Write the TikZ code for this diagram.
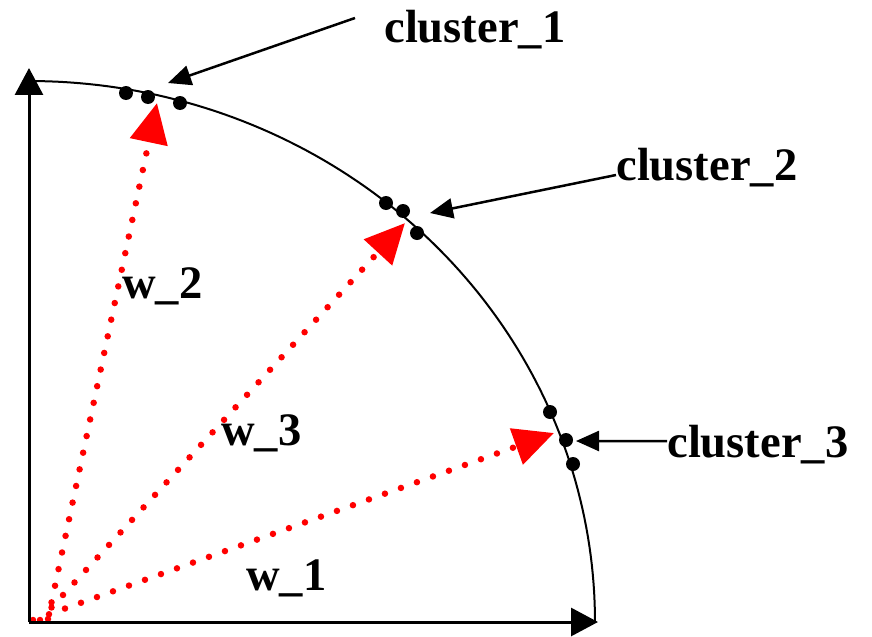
\documentclass[tikz,border=0pt]{standalone}
\usepackage{fontspec}
\setmainfont{Liberation Serif}
\usetikzlibrary{arrows.meta}
\begin{document}
\begin{tikzpicture}[x=0.02cm,y=-0.02cm,
  axis/.style={line width=0.06cm,-{Triangle[length=0.54cm,width=0.56cm]}},
  weight/.style={red,line width=0.13cm,line cap=round,dash pattern=on 0pt off 0.34cm,-{Triangle[length=0.8cm,width=0.74cm]}},
  pointer/.style={line width=0.05cm,-{Triangle[length=0.46cm,width=0.4cm]}},
  dotpt/.style={circle,fill=black,inner sep=0pt,minimum size=0.28cm},
  lbl/.style={font=\bfseries\fontsize{26.5}{31}\selectfont,inner sep=0pt,anchor=base west}]
\useasboundingbox (0,0) rectangle (872,636);
% axes
\coordinate (O) at (29,622);
\coordinate (ytip) at (29,68);
\coordinate (xtip) at (598,622);
% weight vectors
\coordinate (s1) at (33,620);
\coordinate (s3) at (40,620);
\coordinate (s2) at (48,619);
\coordinate (t1) at (554,433);
\coordinate (t3) at (405,223);
\coordinate (t2) at (157,103);
\draw[weight] (s1) -- (t1);
\draw[weight] (s3) -- (t3);
\draw[weight] (s2) -- (t2);
% axes
\draw[axis] (O) -- (ytip);
\draw[axis] (O) -- (xtip);
% unit arc
\draw[line width=0.04cm] plot[domain=0:90,samples=90,variable=\t] ({29+566*cos(\t)},{622-541*sin(\t)});
% cluster points
\node[dotpt] (a1) at (126,93) {};
\node[dotpt] (a2) at (148,97) {};
\node[dotpt] (a3) at (180,103) {};
\node[dotpt] (b1) at (386,203) {};
\node[dotpt] (b2) at (403,211) {};
\node[dotpt] (b3) at (417,233) {};
\node[dotpt] (c1) at (550,412) {};
\node[dotpt] (c2) at (566,440) {};
\node[dotpt] (c3) at (573,464) {};
% labels
\node[lbl] (L1) at (384,42) {cluster\_1};
\node[lbl] (L2) at (616,180) {cluster\_2};
\node[lbl] (L3) at (667,457) {cluster\_3};
\node[lbl] (w2) at (122,298) {w\_2};
\node[lbl] (w3) at (221,445) {w\_3};
\node[lbl] (w1) at (246,590) {w\_1};
% pointers
\coordinate (p1s) at (355,18);
\coordinate (p1) at (168,83);
\coordinate (p2) at (430,213);
\coordinate (p3) at (576,441);
\draw[pointer] (p1s) -- (p1);
\draw[pointer] ([yshift=0.1cm]L2.base west) -- (p2);
\draw[pointer] ([yshift=0.32cm]L3.base west) -- (p3);
\end{tikzpicture}
\end{document}
